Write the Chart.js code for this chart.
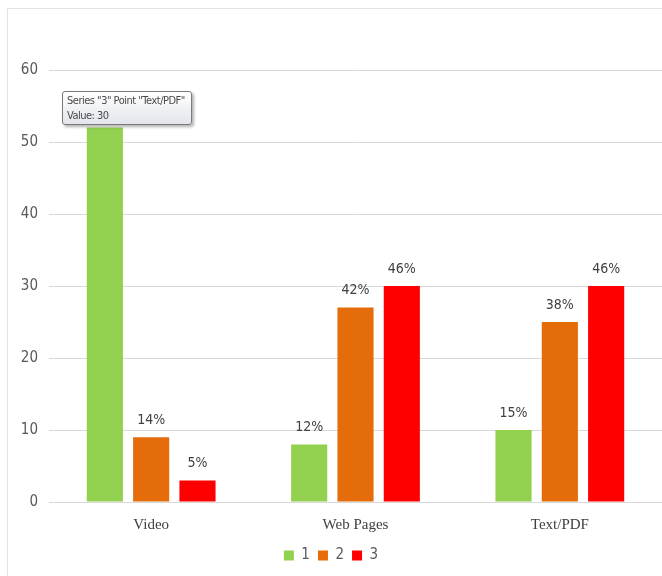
<!DOCTYPE html>
<html>
<head>
<meta charset="utf-8">
<script src="https://cdn.jsdelivr.net/npm/chart.js@4"></script>
<style>
	body { margin: 0; background: #fff; }
	#wrap { position: relative; width: 662px; height: 576px; overflow: hidden; }
	#frame { position: absolute; left: 7px; top: 8px; width: 700px; height: 620px; border: 1px solid #e2e2e2; }
	#chart { position: absolute; left: 0; top: 0; }
	#tip {
		position: absolute; left: 62px; top: 91px; width: 124px; height: 31px;
		border: 1px solid #7a7a7a; border-radius: 3px;
		background: linear-gradient(#ffffff, #e3e5ec);
		box-shadow: 2px 2px 3px rgba(0,0,0,0.3);
		font: 11px "DejaVu Sans Condensed", "Open Sans", sans-serif; color: #4a4a4a;
		padding: 1px 0 0 4px; line-height: 15px; white-space: nowrap; letter-spacing: -0.5px;
	}
</style>
</head>
<body>
<div id="wrap">
	<div id="frame"></div>
	<canvas id="chart" width="662" height="576"></canvas>
	<div id="tip">Series "3" Point "Text/PDF"<br>Value: 30</div>
</div>
<script>
	/** 데이터 **/
	const categories = ['Video', 'Web Pages', 'Text/PDF'];
	const seriesNames = ['1', '2', '3'];
	const series1 = [52, 8, 10];
	const series2 = [9, 27, 25];
	const series3 = [3, 30, 30];
	const labels1 = ['', '12%', '15%'];
	const labels2 = ['14%', '42%', '38%'];
	const labels3 = ['5%', '46%', '46%'];
	const yTicks = [0, 10, 20, 30, 40, 50, 60];

	/** 공통 **/
	let colors = {color: ['#92D050', '#E46C0A', '#FF0000']};
	let narrow = '"DejaVu Sans Condensed", "Open Sans", sans-serif';

	/** 막대 위 라벨 **/
	const barLabels = {
		id: 'barLabels',
		afterDatasetsDraw(chart) {
			const ctx = chart.ctx;
			ctx.save();
			ctx.font = '14px ' + narrow;
			ctx.fillStyle = '#404040';
			ctx.textAlign = 'center';
			ctx.textBaseline = 'bottom';
			chart.data.datasets.forEach((ds, i) => {
				chart.getDatasetMeta(i).data.forEach((bar, j) => {
					if (ds.pctLabels[j]) ctx.fillText(ds.pctLabels[j], bar.x, bar.y - 10);
				});
			});
			ctx.restore();
		}
	};

	let barChart = new Chart(document.getElementById('chart'), {
		type: 'bar',
		data: {
			labels: categories,
			datasets: [
				{label: seriesNames[0], data: series1, pctLabels: labels1, backgroundColor: colors.color[0]},
				{label: seriesNames[1], data: series2, pctLabels: labels2, backgroundColor: colors.color[1]},
				{label: seriesNames[2], data: series3, pctLabels: labels3, backgroundColor: colors.color[2]}
			]
		},
		options: {
			responsive: false,
			animation: false,
			categoryPercentage: 0.68,
			barPercentage: 0.78,
			layout: {padding: {top: 70, right: 0, left: 0, bottom: 3}},
			plugins: {
				tooltip: {enabled: false},
				legend: {
					position: 'bottom',
					labels: {boxWidth: 10, boxHeight: 10, padding: 8, color: '#595959', font: {size: 15, family: narrow}}
				}
			},
			scales: {
				x: {
					grid: {display: false},
					border: {display: false},
					ticks: {color: '#404040', padding: 6, font: {size: 15, family: '"Liberation Serif", serif'}}
				},
				y: {
					min: 0, max: 60,
					afterBuildTicks: (s) => { s.ticks = yTicks.map(v => ({value: v})); },
					afterFit: (s) => { s.width = 49; },
					grid: {color: '#d9d9d9', drawTicks: false},
					border: {display: false},
					ticks: {color: '#595959', padding: 11, font: {size: 15, family: narrow}}
				}
			}
		},
		plugins: [barLabels]
	});
</script>
</body>
</html>
